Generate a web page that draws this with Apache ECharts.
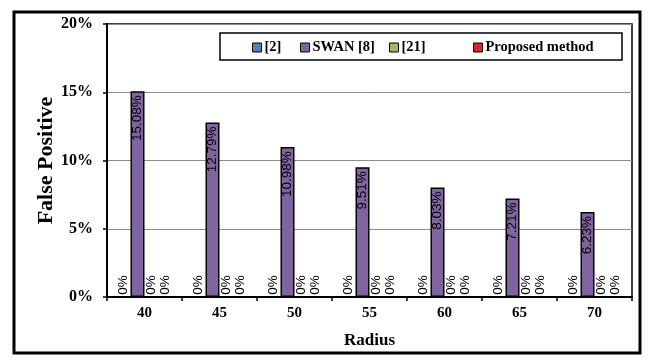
<!DOCTYPE html>
<html>
<head>
<meta charset="utf-8">
<script src="https://cdn.jsdelivr.net/npm/echarts@6/dist/echarts.min.js"></script>
<style>
  html, body { margin: 0; padding: 0; background: #fff; }
  #chart { width: 649px; height: 361px; }
</style>
</head>
<body>
<div id="chart"></div>
<script>
// Radius values on the x axis
const radii = ['40', '45', '50', '55', '60', '65', '70'];
// False positive rate (%) per method
const ref2 = [0, 0, 0, 0, 0, 0, 0];
const swan8 = [15.08, 12.79, 10.98, 9.51, 8.03, 7.21, 6.23];
const ref21 = [0, 0, 0, 0, 0, 0, 0];
const proposed = [0, 0, 0, 0, 0, 0, 0];
const seriesNames = ['[2]', 'SWAN [8]', '[21]', 'Proposed method'];
const seriesColors = ['#4f81bd', '#8064a2', '#9bbb59', '#e0202a'];
const yTicks = [0, 5, 10, 15, 20];

const serif = '"Liberation Serif", "Times New Roman", serif';
const sans = '"Liberation Sans", Arial, sans-serif';

function pct(v) {
  return v === 0 ? '0%' : v.toFixed(2) + '%';
}

function barSeries(i, data, inside) {
  return {
    name: seriesNames[i],
    type: 'bar',
    data: data,
    barWidth: 14,
    barGap: '0%',
    itemStyle: { color: seriesColors[i], borderColor: '#000', borderWidth: 1.5 },
    label: {
      show: true,
      position: inside ? 'insideTop' : 'insideBottom',
      rotate: 90,
      align: inside ? 'right' : 'left',
      verticalAlign: 'middle',
      distance: inside ? 4 : 3,
      fontFamily: sans,
      fontSize: 13.5,
      color: '#000',
      formatter: p => pct(p.value)
    }
  };
}

// one legend entry per component so each key sits at its own spot in the box
const legendLefts = [252, 300, 389, 473];
const legends = seriesNames.map((n, i) => ({
  data: [n],
  left: legendLefts[i], top: 40,
  padding: 0,
  z: 10,
  itemWidth: 9, itemHeight: 9,
  icon: 'rect',
  itemStyle: { borderColor: '#000', borderWidth: 1 },
  textStyle: { fontFamily: serif, fontWeight: 'bold', fontSize: 14.5, color: '#000', padding: [0, 0, 0, -2] }
}));

const chart = echarts.init(document.getElementById('chart'), null, { renderer: 'canvas' });
chart.setOption({
  animation: false,
  backgroundColor: '#fff',
  graphic: [{
    type: 'rect',
    shape: { x: 14, y: 12, width: 626, height: 341 },
    style: { fill: 'none', stroke: '#000', lineWidth: 3 },
    z: 100
  }, {
    type: 'rect',
    shape: { x: 220, y: 33, width: 402, height: 27 },
    style: { fill: '#fff', stroke: '#000', lineWidth: 1.5 },
    z: 3
  }],
  grid: {
    left: 107, right: 17, top: 24, bottom: 64,
    show: true, borderColor: '#000', borderWidth: 1.5
  },
  legend: legends,
  xAxis: {
    type: 'category',
    data: radii,
    name: 'Radius',
    nameLocation: 'middle',
    nameGap: 35,
    nameMoveOverlap: false,
    nameTextStyle: { fontFamily: serif, fontWeight: 'bold', fontSize: 17, color: '#000' },
    axisLine: { lineStyle: { color: '#000', width: 2 } },
    axisTick: { show: true, length: 4, lineStyle: { color: '#000', width: 1.5 } },
    axisLabel: { fontFamily: serif, fontWeight: 'bold', fontSize: 15, color: '#000', margin: 9 }
  },
  yAxis: {
    type: 'value',
    min: yTicks[0], max: yTicks[yTicks.length - 1], interval: 5,
    name: 'False Positive',
    nameLocation: 'middle',
    nameGap: 50,
    nameMoveOverlap: false,
    nameTextStyle: { fontFamily: serif, fontWeight: 'bold', fontSize: 22, color: '#000' },
    axisLine: { show: true, lineStyle: { color: '#000', width: 2 } },
    axisTick: { show: true, length: 4, lineStyle: { color: '#000', width: 1.5 } },
    axisLabel: { fontFamily: serif, fontWeight: 'bold', fontSize: 16, color: '#000', margin: 14, formatter: '{value}%' },
    splitLine: { show: true, lineStyle: { color: '#8c8c8c', width: 1 } }
  },
  series: [
    barSeries(0, ref2, false),
    barSeries(1, swan8, true),
    barSeries(2, ref21, false),
    barSeries(3, proposed, false)
  ]
});
</script>
</body>
</html>
